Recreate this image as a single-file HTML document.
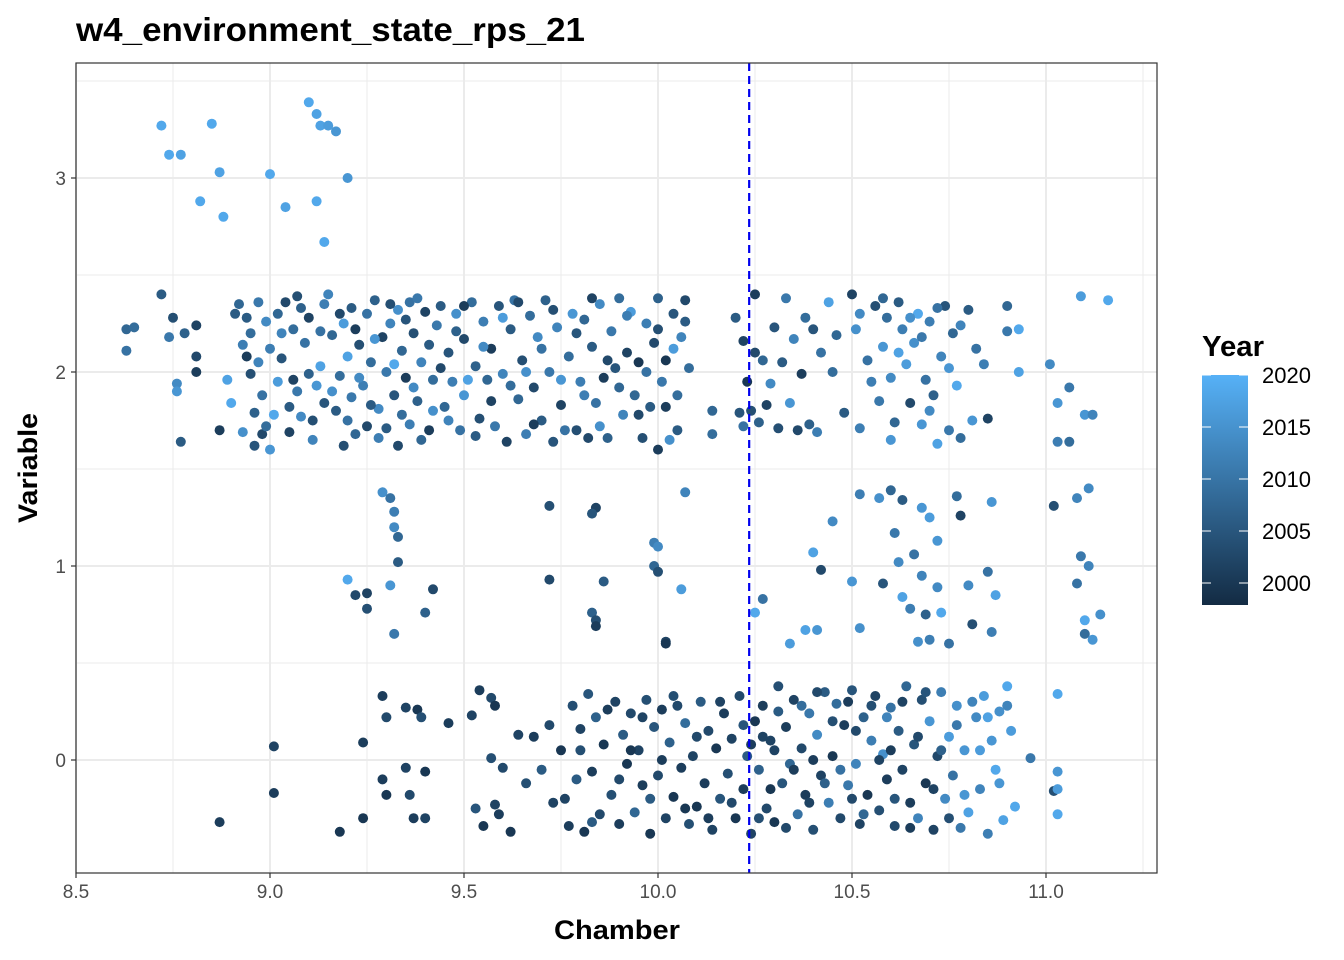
<!DOCTYPE html>
<html><head><meta charset="utf-8">
<style>
html,body{margin:0;padding:0;background:#fff;}
svg{display:block;font-family:"Liberation Sans",Arial,sans-serif;}
</style></head>
<body>
<svg id="chart" width="1344" height="960" viewBox="0 0 1344 960">
  <defs>
    <linearGradient id="yearGrad" x1="0" y1="1" x2="0" y2="0">
      <stop offset="0" stop-color="#132B43"/>
      <stop offset="1" stop-color="#56B1F7"/>
    </linearGradient>
  </defs>
  <text x="76" y="41" font-size="33" font-weight="bold" fill="#000" textLength="509" lengthAdjust="spacingAndGlyphs">w4_environment_state_rps_21</text>
  <g id="grid"></g>
  <g id="points"></g>
  <g id="axes"></g>
  <text x="554" y="939" font-size="27" font-weight="bold" textLength="126" lengthAdjust="spacingAndGlyphs">Chamber</text>
  <text transform="translate(37,523) rotate(-90)" font-size="27" font-weight="bold" textLength="110" lengthAdjust="spacingAndGlyphs">Variable</text>
  <g id="legend">
    <text x="1202" y="356" font-size="29" font-weight="bold" textLength="62" lengthAdjust="spacingAndGlyphs">Year</text>
    <rect x="1202" y="375" width="46" height="230" fill="url(#yearGrad)"/>
  </g>
</svg>
<script>
const xTicks = [8.5, 9.0, 9.5, 10.0, 10.5, 11.0];
const xTickLabels = ["8.5", "9.0", "9.5", "10.0", "10.5", "11.0"];
const yTicks = [0, 1, 2, 3];
const yTickLabels = ["0", "1", "2", "3"];
const legendYears = [2000, 2005, 2010, 2015, 2020];
const cutoffChamber = 10.235;
const points = [
[8.72,3.27,2019],[8.74,3.12,2019],[8.77,3.12,2018],[8.85,3.28,2019],[8.87,3.03,2018],[8.82,2.88,2019],[8.88,2.80,2019],[9.0,3.02,2019],[9.04,2.85,2018],[9.1,3.39,2019],[9.12,3.33,2018],[9.13,3.27,2018],[9.15,3.27,2017],[9.17,3.24,2016],[9.2,3.0,2016],[9.12,2.88,2019],[9.14,2.67,2019],
[8.63,2.22,2008],[8.63,2.11,2010],[8.65,2.23,2009],[8.72,2.40,2006],[8.74,2.18,2011],[8.75,2.28,2004],[8.76,1.94,2014],[8.76,1.90,2016],[8.77,1.64,2006],[8.78,2.20,2007],[8.81,2.24,2002],[8.81,2.08,2003],[8.81,2.00,2001],[8.87,1.70,2001],[8.89,1.96,2018],[8.9,1.84,2019],[8.92,2.35,2008],[8.93,2.14,2012],[8.93,1.69,2015],[8.94,2.28,2006],[8.95,2.20,2009],[8.95,1.99,2004],[8.96,1.79,2007],[8.96,1.62,2005],[8.97,2.36,2011],[8.97,2.05,2013],[8.98,1.88,2010],[8.98,1.68,2003],[8.99,2.26,2014],[9.0,2.12,2012],[9.0,1.60,2016],[9.01,1.78,2019],[9.02,2.30,2008],[9.02,1.95,2017],[9.03,2.07,2005],[9.04,2.36,2003],[9.05,1.82,2006],[9.05,1.69,2002],[9.06,2.22,2009],[9.07,2.39,2004],[9.07,1.90,2011],[9.08,1.77,2014],[9.09,2.15,2010],[9.1,1.99,2007],[9.1,2.28,2002],[9.11,1.65,2013],[9.12,1.93,2016],[9.13,2.03,2018],[9.14,2.35,2012],[9.14,1.84,2005],[9.15,2.40,2013],[9.16,2.19,2008],[9.17,1.80,2006],[9.18,1.98,2009],[9.19,1.62,2004],[9.19,2.25,2017],[9.2,2.08,2018],[9.21,2.33,2006],[9.21,1.87,2011],[9.22,1.68,2008],[9.23,2.14,2004],[9.24,1.93,2012],[9.25,2.30,2010],[9.25,1.72,2003],[9.26,2.05,2009],[9.27,2.37,2007],[9.28,1.81,2014],[9.29,2.18,2002],[9.3,1.71,2006],[9.3,2.00,2011],[9.31,2.25,2013],[9.32,1.88,2005],[9.33,2.32,2015],[9.33,1.62,2003],[9.34,2.11,2008],[9.35,1.97,2001],[9.36,2.36,2010],[9.36,1.73,2012],[9.37,2.20,2004],[9.38,1.85,2007],[9.39,2.05,2013],[9.4,2.31,2002],[9.41,1.70,2001],[9.42,1.96,2009],[9.43,2.24,2011],[9.44,2.34,2006],[9.45,1.82,2008],[9.46,2.10,2005],[9.47,1.95,2012],[9.48,2.30,2015],[9.49,1.70,2010],[9.5,2.17,2003],[9.5,1.88,2016],[9.52,2.36,2009],[9.53,2.03,2007],[9.54,1.76,2004],[9.55,2.26,2012],[9.56,1.96,2008],[9.57,2.12,2001],[9.58,1.72,2011],[9.59,2.34,2005],[9.6,1.99,2013],[9.61,1.64,2002],[9.62,2.22,2006],[9.63,2.37,2010],[9.64,1.86,2008],[9.65,2.06,2004],[9.66,1.68,2012],[9.67,2.29,2009],[9.68,1.92,2003],[9.69,2.18,2014],[9.7,1.75,2006],[9.71,2.37,2007],[9.72,2.00,2011],[9.73,1.64,2005],[9.74,2.23,2013],[9.75,1.83,2002],[9.77,2.08,2009],[9.78,2.30,2016],[9.79,1.70,2004],[9.8,1.95,2012],[9.81,2.27,2008],[9.82,1.66,2003],[9.83,2.13,2006],[9.84,1.84,2010],[9.85,2.35,2014],[9.86,1.97,2001],[9.87,1.66,2007],[9.88,2.21,2011],[9.89,2.02,2005],[9.9,2.38,2009],[9.91,1.78,2013],[9.92,2.10,2002],[9.93,2.31,2017],[9.94,1.88,2008],[9.95,2.05,2000],[9.96,1.66,2004],[9.97,2.25,2012],[9.98,1.82,2006],[9.99,2.15,2003],[10.0,1.60,2001],[10.0,2.38,2007],[10.01,1.95,2011],[10.02,2.06,2000],[10.03,1.65,2015],[10.04,2.30,2005],[10.05,1.88,2009],[10.06,2.18,2013],[10.07,2.37,2003],[10.07,2.26,2006],[10.14,1.80,2008],[10.14,1.68,2009],[10.2,2.28,2006],[10.21,1.79,2005],[10.22,2.16,2002],[10.22,1.72,2010],[10.23,1.95,2000],[10.24,1.80,2004],[10.25,2.40,2001],[10.25,2.10,2003],[10.26,1.74,2007],[10.27,2.06,2008],[10.28,1.83,2002],[10.29,1.94,2014],[10.3,2.23,2005],[10.31,1.71,2004],[10.32,2.05,2006],[10.33,2.38,2011],[10.34,1.84,2016],[10.35,2.17,2013],[10.36,1.70,2003],[10.37,1.99,2001],[10.38,2.28,2009],[10.39,1.73,2007],[10.4,2.22,2005],[10.41,1.69,2012],[10.42,2.10,2010],[10.44,2.36,2018],[10.46,2.19,2008],[10.48,1.79,2006],[10.5,2.40,2002],[10.51,2.22,2015],[10.52,1.71,2012],[10.54,2.06,2010],[10.56,2.34,2004],[10.57,1.85,2011],[10.58,2.13,2016],[10.59,2.28,2009],[10.6,1.97,2014],[10.61,1.74,2008],[10.62,2.36,2006],[10.63,2.22,2012],[10.64,2.04,2017],[10.65,1.84,2003],[10.66,2.15,2015],[10.67,2.30,2019],[10.68,1.73,2016],[10.69,1.96,2010],[10.7,2.26,2012],[10.71,1.88,2007],[10.72,1.63,2018],[10.73,2.08,2013],[10.74,2.34,2005],[10.75,1.70,2011],[10.76,2.20,2008],[10.77,1.93,2019],[10.78,1.66,2009],[10.8,2.32,2006],[10.81,1.75,2016],[10.82,2.12,2010],[10.84,2.04,2012],[10.85,1.76,2002],[10.9,2.34,2008],[10.9,2.21,2011],[10.93,2.22,2019],[10.93,2.00,2018],[11.01,2.04,2014],[11.03,1.84,2016],[11.03,1.64,2012],[11.06,1.92,2011],[11.06,1.64,2009],[11.09,2.39,2017],[11.1,1.78,2016],[11.12,1.78,2013],[11.16,2.37,2019],
[8.91,2.30,2006],[8.94,2.08,2001],[8.99,1.72,2009],[9.03,2.20,2013],[9.06,1.96,2002],[9.08,2.33,2007],[9.11,1.75,2004],[9.13,2.21,2010],[9.16,1.90,2015],[9.18,2.30,2003],[9.2,1.75,2010],[9.22,2.22,2001],[9.23,1.97,2014],[9.26,1.83,2006],[9.27,2.17,2016],[9.28,1.66,2012],[9.31,2.35,2004],[9.32,2.04,2019],[9.34,1.78,2009],[9.35,2.27,2005],[9.37,1.92,2014],[9.38,2.38,2011],[9.39,1.65,2008],[9.41,2.14,2006],[9.42,1.80,2015],[9.44,2.02,2003],[9.46,1.75,2013],[9.48,2.21,2007],[9.5,2.34,2001],[9.51,1.96,2018],[9.53,1.67,2006],[9.55,2.13,2014],[9.57,1.85,2002],[9.6,2.28,2017],[9.62,1.93,2009],[9.64,2.36,2003],[9.66,2.00,2015],[9.68,1.73,2001],[9.7,2.12,2010],[9.73,2.32,2004],[9.75,1.96,2016],[9.76,1.70,2010],[9.79,2.20,2005],[9.81,1.88,2012],[9.83,2.38,2002],[9.85,1.72,2015],[9.87,2.06,2003],[9.9,1.92,2008],[9.92,2.29,2012],[9.95,1.78,2003],[9.97,2.00,2010],[10.0,2.22,2004],[10.02,1.82,2001],[10.04,2.12,2017],[10.05,1.70,2006],[10.08,2.02,2009],
[10.52,2.30,2014],[10.55,1.95,2012],[10.58,2.38,2008],[10.62,2.10,2018],[10.65,2.28,2015],[10.68,2.18,2011],[10.7,1.80,2014],[10.72,2.33,2010],[10.75,2.02,2016],[10.78,2.24,2013],[10.6,1.65,2016],[10.45,2.00,2009],
[9.2,0.93,2019],[9.22,0.85,2003],[9.25,0.78,2004],[9.25,0.86,2002],[9.29,1.38,2015],[9.31,1.35,2010],[9.32,1.28,2012],[9.32,1.20,2014],[9.33,1.15,2008],[9.33,1.02,2006],[9.31,0.90,2016],[9.32,0.65,2011],[9.4,0.76,2007],[9.42,0.88,2003],[9.72,1.31,2004],[9.72,0.93,2003],[9.84,1.30,2002],[9.83,1.27,2005],[9.83,0.76,2007],[9.84,0.72,2004],[9.84,0.69,2001],[9.86,0.92,2006],[9.99,1.12,2012],[10.0,1.10,2014],[9.99,1.00,2008],[10.0,0.97,2004],[10.06,0.88,2017],[10.07,1.38,2013],[10.02,0.61,2002],[10.02,0.60,2000],[10.27,0.83,2010],[10.25,0.76,2019],[10.34,0.60,2017],[10.38,0.67,2018],[10.41,0.67,2016],[10.4,1.07,2018],[10.42,0.98,2003],[10.45,1.23,2014],[10.5,0.92,2016],[10.52,1.37,2012],[10.52,0.68,2015],[10.57,1.35,2015],[10.58,0.91,2005],[10.6,1.39,2008],[10.61,1.17,2011],[10.62,1.02,2014],[10.63,1.34,2006],[10.63,0.84,2018],[10.65,0.78,2012],[10.66,1.06,2010],[10.67,0.61,2015],[10.68,1.30,2016],[10.68,0.95,2013],[10.69,0.75,2007],[10.7,1.25,2017],[10.7,0.62,2012],[10.72,1.13,2016],[10.72,0.89,2014],[10.73,0.76,2019],[10.75,0.60,2010],[10.77,1.36,2009],[10.78,1.26,2002],[10.8,0.90,2014],[10.81,0.70,2004],[10.85,0.97,2010],[10.86,1.33,2016],[10.87,0.85,2018],[10.86,0.66,2012],[11.02,1.31,2004],[11.08,1.35,2013],[11.08,0.91,2010],[11.09,1.05,2011],[11.11,1.40,2014],[11.11,1.00,2013],[11.1,0.72,2019],[11.1,0.65,2009],[11.12,0.62,2016],[11.14,0.75,2015],
[9.01,0.07,2002],[9.01,-0.17,2001],[8.87,-0.32,2001],[9.18,-0.37,2000],[9.24,0.09,2001],[9.24,-0.30,2000],[9.29,0.33,2001],[9.3,0.22,2003],[9.29,-0.10,2001],[9.3,-0.18,2000],[9.35,0.27,2002],[9.35,-0.04,2002],[9.36,-0.18,2003],[9.37,-0.30,2001],[9.38,0.26,2000],[9.39,0.22,2004],[9.4,-0.30,2002],[9.4,-0.06,2000],[9.46,0.19,2001],[9.52,0.23,2002],[9.54,0.36,2001],[9.53,-0.25,2005],[9.55,-0.34,2000],[9.57,0.32,2003],[9.58,0.28,2000],[9.57,0.01,2004],[9.58,-0.23,2002],[9.59,-0.28,2001],[9.6,-0.04,2003],[9.62,-0.37,2000],[9.64,0.13,2002],[9.66,-0.12,2004],[9.68,0.12,2001],[9.7,-0.05,2006],[9.72,0.18,2003],[9.73,-0.22,2002],[9.75,0.05,2000],[9.77,-0.34,2001],[9.78,0.28,2004],[9.79,-0.10,2006],[9.8,0.16,2002],[9.81,-0.37,2000],[9.82,0.34,2005],[9.83,-0.06,2001],[9.84,0.22,2007],[9.85,-0.28,2003],[9.86,0.08,2000],[9.88,-0.18,2004],[9.89,0.30,2002],[9.9,-0.33,2001],[9.91,0.13,2006],[9.92,-0.02,2000],[9.93,0.24,2003],[9.94,-0.27,2008],[9.95,0.05,2002],[9.96,-0.13,2001],[9.97,0.31,2004],[9.98,-0.38,2000],[9.99,0.17,2005],[10.0,-0.08,2003],[10.01,0.26,2001],[10.02,-0.30,2002],[10.03,0.09,2007],[10.04,-0.19,2000],[10.05,0.28,2003],[10.06,-0.04,2001],[10.07,0.19,2009],[10.08,-0.33,2004],[10.09,0.02,2002],[10.1,-0.24,2000],[10.11,0.30,2006],[10.12,-0.12,2001],[10.13,0.15,2003],[10.14,-0.36,2002],[10.15,0.06,2000],[10.16,-0.20,2005],[10.17,0.24,2001],[10.18,-0.07,2004],[10.19,0.11,2002],[10.2,-0.30,2000],[10.21,0.33,2003],[10.22,-0.15,2001],[10.23,0.02,2006],[10.24,-0.38,2002],[10.25,0.20,2000],[10.26,-0.05,2007],[10.27,0.28,2001],[10.28,-0.25,2003],[10.29,0.10,2002],[10.3,-0.32,2000],[10.31,0.38,2004],[10.32,-0.12,2005],[10.33,0.17,2001],[10.34,-0.02,2008],[10.35,0.31,2002],[10.36,-0.28,2010],[10.37,0.06,2003],[10.38,-0.18,2001],[10.39,0.24,2011],[10.4,-0.36,2004],[10.41,0.13,2014],[10.42,-0.08,2002],[10.43,0.35,2006],[10.44,-0.22,2012],[10.45,0.02,2000],[10.46,0.29,2009],[10.47,-0.30,2003],[10.48,0.18,2001],[10.49,-0.13,2011],[10.5,0.36,2005],[10.51,-0.02,2013],[10.52,-0.33,2002],[10.53,0.22,2007],[10.54,-0.18,2000],[10.55,0.10,2012],[10.56,0.33,2002],[10.57,-0.26,2004],[10.58,0.03,2015],[10.59,-0.10,2001],[10.6,0.27,2010],[10.61,-0.34,2003],[10.62,0.15,2006],[10.63,-0.05,2002],[10.64,0.38,2008],[10.65,-0.22,2001],[10.66,0.08,2005],[10.67,-0.30,2013],[10.68,0.31,2004],[10.69,-0.12,2000],[10.7,0.20,2016],[10.71,-0.36,2002],[10.72,0.02,2003],[10.73,0.35,2012],[10.74,-0.20,2014],[10.75,0.12,2017],[10.76,-0.08,2010],[10.77,0.28,2015],[10.78,-0.35,2011],[10.79,0.05,2016],[10.8,-0.27,2018],[10.82,0.22,2014],[10.83,-0.15,2013],[10.84,0.33,2017],[10.85,-0.38,2012],[10.86,0.10,2016],[10.87,-0.05,2019],[10.88,0.25,2015],[10.89,-0.31,2018],[10.9,0.38,2019],[10.91,0.15,2017],[10.92,-0.24,2019],[10.96,0.01,2011],[11.02,-0.16,2004],[11.03,0.34,2019],[11.03,-0.06,2016],[11.03,-0.28,2019],[11.03,-0.15,2017],
[9.76,-0.2,2002],[9.8,0.05,2004],[9.83,-0.32,2006],[9.87,0.26,2001],[9.9,-0.1,2003],[9.93,0.05,2000],[9.96,0.22,2002],[9.98,-0.2,2006],[10.01,0.0,2001],[10.04,0.33,2004],[10.07,-0.25,2000],[10.1,0.12,2003],[10.13,-0.3,2001],[10.16,0.3,2002],[10.19,-0.22,2003],[10.22,0.18,2005],[10.24,0.08,2001],[10.26,-0.3,2004],[10.27,0.12,2002],[10.29,-0.15,2000],[10.31,0.25,2006],[10.33,-0.35,2003],[10.35,-0.05,2001],[10.37,0.28,2009],[10.39,-0.22,2002],[10.41,0.35,2003],[10.43,-0.12,2007],[10.45,0.20,2004],[10.47,-0.05,2010],[10.49,0.30,2001],[10.51,0.15,2003],[10.53,-0.28,2008],[10.55,0.28,2004],[10.57,0.00,2002],[10.59,0.22,2013],[10.61,-0.20,2005],[10.63,0.30,2002],[10.65,-0.35,2001],[10.67,0.12,2003],[10.69,0.35,2005],[10.71,-0.15,2002],[10.73,0.05,2007],[10.75,-0.30,2004],[10.77,0.18,2011],[10.79,-0.18,2016],[10.81,0.30,2013],[10.83,0.05,2017],[10.85,0.22,2018],[10.88,-0.12,2016],[10.9,0.28,2013],[10.3,0.05,2002],[10.4,0.0,2001],[10.6,0.05,2001],[10.5,-0.2,2003]
];

const NS = "http://www.w3.org/2000/svg";
const P = {l:76, r:1157, t:63, b:873};
function xs(v){ return 76 + (v - 8.5) * 388; }
function ys(v){ return 760 - v * 194; }
function yearY(yr){ return 375 + (2020 - yr) * 10.4; }
function lerp(a,b,t){ return Math.round(a + (b - a) * t); }
function yearColor(yr){
  let t = (yr - 1998) / (2020.5 - 1998);
  t = Math.max(0, Math.min(1, t));
  return "rgb(" + lerp(0x13,0x56,t) + "," + lerp(0x2B,0xB1,t) + "," + lerp(0x43,0xF7,t) + ")";
}
function mk(tag, attrs, parent){
  const e = document.createElementNS(NS, tag);
  for (const k in attrs) e.setAttribute(k, attrs[k]);
  parent.appendChild(e);
  return e;
}
const grid = document.getElementById("grid");
const bg = mk("rect", {x:P.l, y:P.t, width:P.r-P.l, height:P.b-P.t, fill:"#fff"}, grid);


for (let i = 0; i < xTicks.length; i++) {
  const v = xTicks[i] + 0.25;
  if (xs(v) < P.r) {
    const ln = mk("line", {x1:xs(v), x2:xs(v), y1:P.t, y2:P.b, stroke:"#ebebeb", "stroke-width":1}, grid);
    
    
  }
}
for (let i = 0; i < yTicks.length; i++) {
  const v = yTicks[i] + 0.5;
  if (ys(v) > P.t) {
    const ln = mk("line", {x1:P.l, x2:P.r, y1:ys(v), y2:ys(v), stroke:"#ebebeb", "stroke-width":1}, grid);
    
    
  }
}
xTicks.forEach(function(v){
  const ln = mk("line", {x1:xs(v), x2:xs(v), y1:P.t, y2:P.b, stroke:"#ebebeb", "stroke-width":2}, grid);
  
  
});
yTicks.forEach(function(v){
  const ln = mk("line", {x1:P.l, x2:P.r, y1:ys(v), y2:ys(v), stroke:"#ebebeb", "stroke-width":2}, grid);
  
  
});
const pg = document.getElementById("points");
points.forEach(function(p){
  const c = mk("circle", {cx:xs(p[0]).toFixed(1), cy:ys(p[1]).toFixed(1), r:5, fill:yearColor(p[2])}, pg);
  
  
});
const cl = mk("line", {x1:xs(cutoffChamber), x2:xs(cutoffChamber), y1:P.t, y2:P.b, stroke:"#0000ee", "stroke-width":2.2, "stroke-dasharray":"8,5"}, pg);


const ax = document.getElementById("axes");
const border = mk("rect", {x:P.l, y:P.t, width:P.r-P.l, height:P.b-P.t, fill:"none", stroke:"#333", "stroke-width":1.2}, ax);


xTicks.forEach(function(v, i){
  const t = mk("line", {x1:xs(v), x2:xs(v), y1:P.b, y2:P.b+5, stroke:"#333", "stroke-width":1.2}, ax);
  
  
  const tx = mk("text", {x:xs(v), y:P.b+25, "font-size":19, fill:"#4d4d4d", "text-anchor":"middle"}, ax);
  tx.textContent = xTickLabels[i];
  
  
});
yTicks.forEach(function(v, i){
  const t = mk("line", {x1:P.l-5, x2:P.l, y1:ys(v), y2:ys(v), stroke:"#333", "stroke-width":1.2}, ax);
  
  
  const tx = mk("text", {x:P.l-10, y:ys(v)+7, "font-size":19, fill:"#4d4d4d", "text-anchor":"end"}, ax);
  tx.textContent = yTickLabels[i];
  
  
});
const lg = document.getElementById("legend");
legendYears.forEach(function(yr){
  const y = yearY(yr);
  const a = mk("line", {x1:1202, x2:1211, y1:y, y2:y, stroke:"#fff", "stroke-width":1}, lg);
  
  
  const b = mk("line", {x1:1239, x2:1248, y1:y, y2:y, stroke:"#fff", "stroke-width":1}, lg);
  
  
  const tx = mk("text", {x:1262, y:y+8, "font-size":22, fill:"#000"}, lg);
  tx.textContent = String(yr);
  
  
});
</script>
</body></html>
